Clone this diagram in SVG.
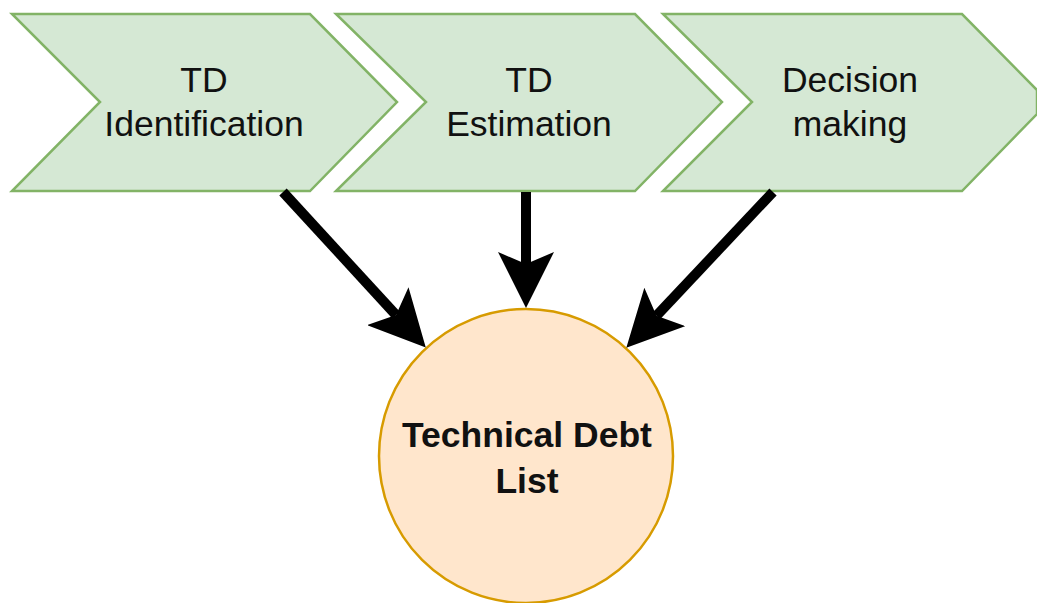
<svg xmlns="http://www.w3.org/2000/svg" width="1037" height="603" viewBox="0 0 1037 603">
  <style>
    .step { fill: #d5e8d4; stroke: #82b366; stroke-width: 2.5; }
    .target { fill: #ffe6cc; stroke: #d79b00; stroke-width: 2.5; }
    .label { font-family: "Liberation Sans", Arial, sans-serif; font-size: 35.5px; fill: #111; text-anchor: middle; }
    .bold { font-weight: bold; }
    .flow { stroke: #000; stroke-width: 10; fill: none; marker-end: url(#head); }
  </style>
  <defs>
    <marker id="head" markerUnits="userSpaceOnUse" viewBox="0 0 56 56" refX="12" refY="28" markerWidth="56" markerHeight="56" orient="auto">
      <path d="M0,0 L56,28 L0,56 L12,28 Z" fill="#000"/>
    </marker>
  </defs>

  <g id="td-identification">
    <polygon class="step" points="12,14 310,14 397,102 310,191 12,191 100,102"/>
    <text class="label" x="204" y="92">TD</text>
    <text class="label" x="204" y="136">Identification</text>
  </g>

  <g id="td-estimation">
    <polygon class="step" points="336,14 635,14 722,102 635,191 336,191 426,102"/>
    <text class="label" x="529" y="92">TD</text>
    <text class="label" x="529" y="136">Estimation</text>
  </g>

  <g id="decision-making">
    <polygon class="step" points="663,14 962,14 1037,90 1037,114 962,191 663,191 752,102"/>
    <text class="label" x="850" y="92">Decision</text>
    <text class="label" x="850" y="136">making</text>
  </g>

  <g id="technical-debt-list">
    <circle class="target" cx="526" cy="456" r="147"/>
    <text class="label bold" x="527" y="447">Technical Debt</text>
    <text class="label bold" x="527" y="493">List</text>
  </g>

  <g id="connectors">
    <line class="flow" x1="283" y1="192" x2="396" y2="315"/>
    <line class="flow" x1="526" y1="192" x2="526" y2="264"/>
    <line class="flow" x1="773" y1="192" x2="656.5" y2="315.7"/>
  </g>
</svg>
